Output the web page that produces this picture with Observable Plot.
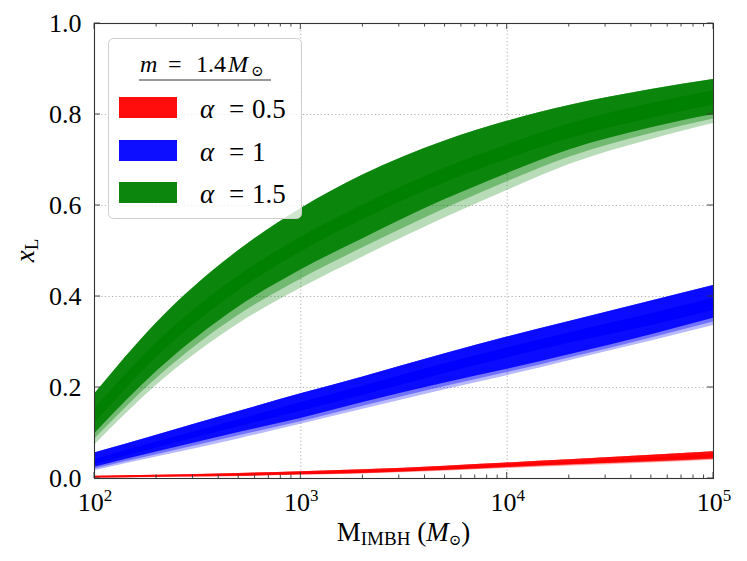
<!DOCTYPE html>
<html><head><meta charset="utf-8">
<script src="https://cdn.jsdelivr.net/npm/d3@7"></script>
<script src="https://cdn.jsdelivr.net/npm/@observablehq/plot@0.6"></script>
<style>
body{margin:0;background:#fff;}
#wrap{width:747px;height:561px;}
</style></head><body><div id="wrap"></div>
<script>
// IMBH masses (M_sun) at which band edges were read
const masses = [100, 200, 500, 1000, 2000, 5000, 10000, 20000, 50000, 100000];

// alpha = 0.5 (red)
const redTop     = [0.005, 0.007, 0.011, 0.015, 0.019, 0.027, 0.034, 0.041, 0.051, 0.059];
const redCoreHi  = [0.004, 0.006, 0.009, 0.012, 0.016, 0.023, 0.030, 0.036, 0.045, 0.052];
const redCoreLo  = [0.002, 0.004, 0.006, 0.009, 0.013, 0.019, 0.026, 0.031, 0.039, 0.046];
const redSolidLo = [0.001, 0.003, 0.005, 0.008, 0.011, 0.018, 0.024, 0.030, 0.037, 0.043];
const redMidLo   = [0.0005, 0.0025, 0.0045, 0.0075, 0.0105, 0.017, 0.023, 0.0285, 0.0355, 0.0415];
const redLightLo = [0.000, 0.002, 0.004, 0.007, 0.010, 0.016, 0.022, 0.027, 0.034, 0.040];

// alpha = 1 (blue)
const blueTop     = [0.056, 0.095, 0.147, 0.186, 0.223, 0.274, 0.311, 0.345, 0.390, 0.424];
const blueCoreHi  = [0.042, 0.080, 0.129, 0.167, 0.203, 0.252, 0.287, 0.320, 0.362, 0.396];
const blueCoreLo  = [0.031, 0.067, 0.114, 0.148, 0.183, 0.231, 0.265, 0.297, 0.336, 0.369];
const blueSolidLo = [0.025, 0.058, 0.101, 0.132, 0.167, 0.210, 0.240, 0.272, 0.316, 0.352];
const blueMidLo   = [0.021, 0.052, 0.094, 0.125, 0.159, 0.202, 0.233, 0.265, 0.309, 0.344];
const blueLightLo = [0.017, 0.047, 0.087, 0.119, 0.152, 0.195, 0.226, 0.259, 0.302, 0.336];

// alpha = 1.5 (green)
const greenTop     = [0.185, 0.342, 0.501, 0.593, 0.667, 0.742, 0.785, 0.820, 0.855, 0.877];
const greenCoreHi  = [0.153, 0.298, 0.445, 0.530, 0.601, 0.682, 0.733, 0.779, 0.824, 0.852];
const greenCoreLo  = [0.121, 0.266, 0.413, 0.498, 0.569, 0.650, 0.701, 0.747, 0.792, 0.821];
const greenSolidLo = [0.098, 0.235, 0.377, 0.458, 0.527, 0.613, 0.670, 0.722, 0.771, 0.800];
const greenMidLo   = [0.086, 0.220, 0.359, 0.438, 0.507, 0.593, 0.652, 0.706, 0.758, 0.790];
const greenLightLo = [0.073, 0.205, 0.340, 0.418, 0.487, 0.573, 0.633, 0.690, 0.745, 0.780];

const seriesLabels = ["0.5", "1", "1.5"];
const seriesColors = ["#ff0000", "#0000ff", "#008000"];

const xTicks = [100, 1000, 10000, 100000];
const xTickExp = ["2", "3", "4", "5"];
const yTicks = [0, 0.2, 0.4, 0.6, 0.8, 1.0];

const series = [
  {color: seriesColors[0], top: redTop, core: [redCoreLo, redCoreHi], solid: redSolidLo, mid: redMidLo, light: redLightLo},
  {color: seriesColors[1], top: blueTop, core: [blueCoreLo, blueCoreHi], solid: blueSolidLo, mid: blueMidLo, light: blueLightLo},
  {color: seriesColors[2], top: greenTop, core: [greenCoreLo, greenCoreHi], solid: greenSolidLo, mid: greenMidLo, light: greenLightLo}
];

function rows(lo, hi) { return masses.map((m, i) => ({m, lo: lo[i], hi: hi[i]})); }

const areaMarks = [];
for (const s of series) {
  const opt = (op) => ({x: "m", y1: "lo", y2: "hi", fill: s.color, fillOpacity: op, curve: "monotone-x"});
  areaMarks.push(Plot.areaY(rows(s.light, s.top), opt(0.28)));
  areaMarks.push(Plot.areaY(rows(s.mid, s.top), opt(0.38)));
  areaMarks.push(Plot.areaY(rows(s.solid, s.top), opt(0.9)));
  areaMarks.push(Plot.areaY(rows(s.core[0], s.core[1]), opt(1)));
}

const font = "'Liberation Serif', 'Times New Roman', serif";

const plot = Plot.plot({
  width: 747, height: 561,
  marginLeft: 94, marginRight: 34, marginTop: 23, marginBottom: 83,
  style: {fontFamily: font, fontSize: "26px", color: "#000", background: "#fff", overflow: "visible"},
  x: {type: "log", domain: [100, 100000], axis: null},
  y: {domain: [0, 1], axis: null},
  clip: true,
  marks: [
    Plot.ruleX([1000, 10000], {stroke: "#b0b0b0", strokeDasharray: "1.2,2.4", strokeWidth: 1}),
    Plot.ruleY([0.2, 0.4, 0.6, 0.8], {stroke: "#b0b0b0", strokeDasharray: "1.2,2.4", strokeWidth: 1}),
    ...areaMarks,
    Plot.axisY(yTicks, {tickSize: 0, tickPadding: 13, tickFormat: d3.format(".1f"), fontSize: 26, fontFamily: font, label: null}),
    Plot.frame({stroke: "#333", strokeWidth: 1.1})
  ]
});
document.getElementById("wrap").appendChild(plot);

const svg = d3.select(plot);
const sx = plot.scale("x"), sy = plot.scale("y");
const X0 = sx.apply(100), X1 = sx.apply(100000), Y0 = sy.apply(0), Y1 = sy.apply(1);
const g = svg.append("g").attr("stroke", "#333").attr("stroke-width", 0.9);

// inward ticks on all four sides
const minorX = [];
for (const d of [100, 1000, 10000]) for (let k = 2; k <= 9; k++) minorX.push(d * k);
for (const v of minorX) {
  const px = sx.apply(v);
  g.append("line").attr("x1", px).attr("x2", px).attr("y1", Y0).attr("y2", Y0 - 3.5);
  g.append("line").attr("x1", px).attr("x2", px).attr("y1", Y1).attr("y2", Y1 + 3.5);
}
for (const v of xTicks) {
  const px = sx.apply(v);
  g.append("line").attr("x1", px).attr("x2", px).attr("y1", Y0).attr("y2", Y0 - 6);
  g.append("line").attr("x1", px).attr("x2", px).attr("y1", Y1).attr("y2", Y1 + 6);
}
for (const v of yTicks) {
  const py = sy.apply(v);
  g.append("line").attr("x1", X0).attr("x2", X0 + 6).attr("y1", py).attr("y2", py);
  g.append("line").attr("x1", X1).attr("x2", X1 - 6).attr("y1", py).attr("y2", py);
}

// x tick labels 10^n
xTicks.forEach((v, i) => {
  const t = svg.append("text").attr("x", sx.apply(v) + 1).attr("y", Y0 + 33)
    .attr("text-anchor", "middle").attr("font-family", font).attr("font-size", 26).attr("fill", "#000");
  t.append("tspan").text("10");
  t.append("tspan").attr("dy", -10).attr("font-size", 17).text(xTickExp[i]);
});

// x label
{
  const t = svg.append("text").attr("x", (X0 + X1) / 2).attr("y", Y0 + 63)
    .attr("text-anchor", "middle").attr("font-family", font).attr("font-size", 27).attr("fill", "#000");
  t.append("tspan").text("M");
  t.append("tspan").attr("dy", 4).attr("font-size", 19).text("IMBH");
  t.append("tspan").attr("dy", -4).text(" (");
  t.append("tspan").attr("font-style", "italic").text("M");
  t.append("tspan").attr("dy", 4).attr("font-size", 15).attr("font-family", "'DejaVu Serif', serif").text("\u2299");
  t.append("tspan").attr("dy", -4).text(")");
}
// y label
{
  const t = svg.append("text").attr("transform", `translate(34,${(Y0 + Y1) / 2}) rotate(-90)`)
    .attr("text-anchor", "middle").attr("font-family", font).attr("font-size", 27).attr("fill", "#000");
  t.append("tspan").attr("font-style", "italic").text("x");
  t.append("tspan").attr("dy", 4).attr("font-size", 19).text("L");
}

// legend
{
  const L = svg.append("g").attr("font-family", font).attr("fill", "#000").attr("text-anchor", "start");
  L.append("rect").attr("x", 108.5).attr("y", 38.5).attr("width", 193).attr("height", 180)
    .attr("rx", 5).attr("fill", "#fff").attr("fill-opacity", 0.8).attr("stroke", "#cfcfcf").attr("stroke-width", 1);
  const tt = L.append("text").attr("y", 72).attr("font-size", 24).attr("text-anchor", "start");
  tt.append("tspan").attr("x", 140).attr("font-style", "italic").text("m");
  tt.append("tspan").attr("x", 168).text("=");
  tt.append("tspan").attr("x", 196).text("1.4");
  tt.append("tspan").attr("x", 228).attr("font-style", "italic").text("M");
  tt.append("tspan").attr("x", 251).attr("dy", 4).attr("font-size", 15).attr("font-family", "'DejaVu Serif', serif").text("\u2299");
  L.append("line").attr("x1", 139).attr("x2", 271).attr("y1", 80).attr("y2", 80).attr("stroke", "#333").attr("stroke-width", 1);
  const patchY = [97, 140, 182];
  seriesLabels.forEach((lab, i) => {
    L.append("rect").attr("x", 119).attr("y", patchY[i]).attr("width", 58).attr("height", 21)
      .attr("fill", seriesColors[i]).attr("fill-opacity", 0.95);
    const t = L.append("text").attr("y", patchY[i] + 21).attr("font-size", 27).attr("text-anchor", "start");
    t.append("tspan").attr("x", 200).attr("font-style", "italic").text("\u03b1");
    t.append("tspan").attr("x", 229).text("=");
    t.append("tspan").attr("x", 252).text(lab);
  });
}
</script>
</body></html>
